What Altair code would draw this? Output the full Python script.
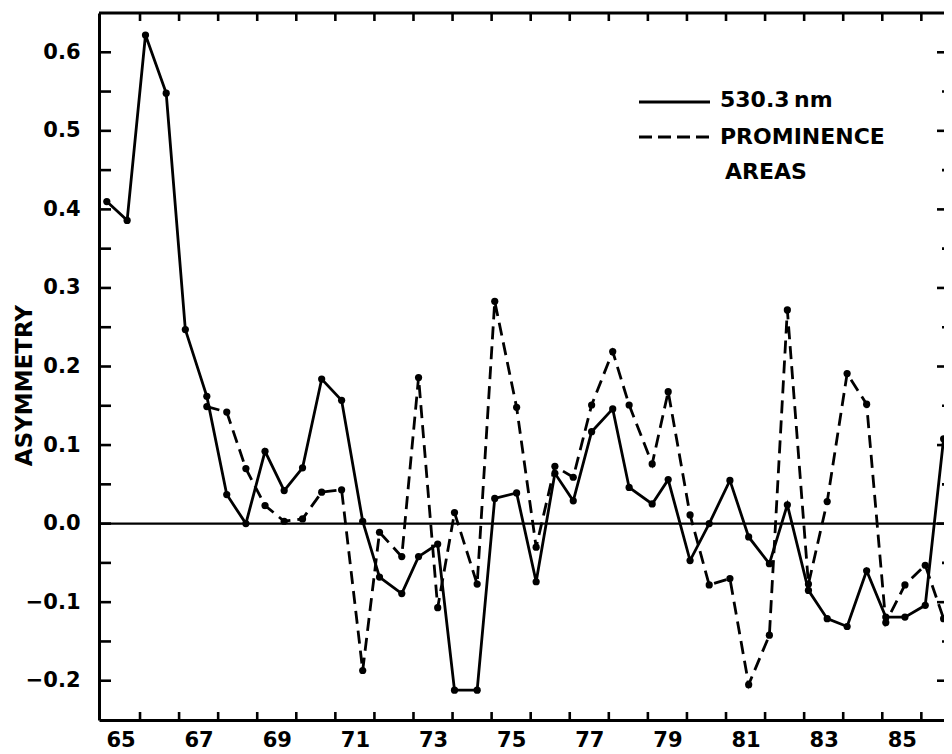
import altair as alt
import pandas as pd

# ---- data ----
years = [1965.15, 1965.67, 1966.14, 1966.67, 1967.16, 1967.71, 1968.22, 1968.71,
         1969.20, 1969.69, 1970.16, 1970.65, 1971.16, 1971.70, 1972.13, 1972.70,
         1973.13, 1973.62, 1974.05, 1974.63, 1975.08, 1975.64, 1976.14, 1976.62,
         1977.09, 1977.56, 1978.10, 1978.52, 1979.11, 1979.52, 1980.08, 1980.57,
         1981.10, 1981.58, 1982.11, 1982.57, 1983.11, 1983.59, 1984.10, 1984.60,
         1985.09, 1985.58, 1986.10, 1986.57]

corona_530 = [0.410, 0.386, 0.622, 0.548, 0.247, 0.162, 0.037, 0.000,
              0.092, 0.042, 0.071, 0.184, 0.157, 0.003, -0.068, -0.089,
              -0.042, -0.026, -0.212, -0.212, 0.032, 0.039, -0.074, 0.064,
              0.029, 0.117, 0.146, 0.046, 0.025, 0.056, -0.047, 0.000,
              0.055, -0.017, -0.051, 0.024, -0.085, -0.121, -0.131, -0.060,
              -0.119, -0.119, -0.104, 0.108]

prom_years = years[5:]
prominence = [0.149, 0.142, 0.070, 0.023, 0.003, 0.006, 0.040, 0.043,
              -0.187, -0.011, -0.042, 0.186, -0.107, 0.014, -0.077, 0.283,
              0.148, -0.030, 0.073, 0.059, 0.151, 0.219, 0.151, 0.076,
              0.168, 0.011, -0.078, -0.070, -0.205, -0.142, 0.272, -0.077,
              0.028, 0.191, 0.152, -0.126, -0.078, -0.053, -0.121]

year_ticks = list(range(1966, 1987))
year_label_pos = [1965.5 + 2 * k for k in range(11)]
y_label_values = [-0.2, -0.1, 0.0, 0.1, 0.2, 0.3, 0.4, 0.5, 0.6]
y_minor_ticks = [-0.2, -0.15, -0.1, -0.05, 0.0, 0.05, 0.1, 0.15, 0.2, 0.25,
                 0.3, 0.35, 0.4, 0.45, 0.5, 0.55, 0.6]
y_long_right = [-0.2, -0.1, 0.0, 0.1, 0.2, 0.3, 0.4, 0.5, 0.6]
y_short_right = [-0.15, -0.05, 0.05, 0.15, 0.25, 0.35, 0.45, 0.55]

W, H = 845, 707
FONT = "DejaVu Sans"
X_DOMAIN = [1964.95, 1986.58]
Y_DOMAIN = [-0.25, 0.65]

df_s = pd.DataFrame({"year": years, "asym": corona_530})
df_p = pd.DataFrame({"year": prom_years, "asym": prominence})

xs = alt.Scale(domain=X_DOMAIN, nice=False, zero=False)
ys = alt.Scale(domain=Y_DOMAIN, nice=False, zero=False)

x_enc = alt.X("year:Q", scale=xs, axis=alt.Axis(
    values=year_label_pos, labelExpr="format(floor(datum.value) % 100, 'd')",
    ticks=False, tickSize=0, grid=False, title=None, domainWidth=3,
    domainColor="black", labelPadding=9, labelFlush=False, labelOverlap=False,
    labelFont=FONT, labelFontSize=21, labelFontWeight="bold", labelColor="black"))
y_enc = alt.Y("asym:Q", scale=ys, axis=alt.Axis(
    values=y_label_values, format=".1f", ticks=False, tickSize=0, grid=False,
    title="ASYMMETRY", titleFontSize=23, titleFontWeight="bold", titleFont=FONT,
    titleColor="black",
    titleAngle=-90, titleX=-75, titleY=372, titleAlign="center",
    titleBaseline="middle", domainWidth=3, domainColor="black",
    labelPadding=19, labelOverlap=False,
    labelFont=FONT, labelFontSize=21, labelFontWeight="bold", labelColor="black"))

LW = 2.8
solid_line = alt.Chart(df_s).mark_line(color="black", strokeWidth=LW).encode(x=x_enc, y=y_enc)
solid_pts = alt.Chart(df_s).mark_circle(color="black", size=52, opacity=1).encode(x="year:Q", y="asym:Q")
dash_line = alt.Chart(df_p).mark_line(color="black", strokeWidth=LW, strokeDash=[13, 7]).encode(x="year:Q", y="asym:Q")
dash_pts = alt.Chart(df_p).mark_circle(color="black", size=52, opacity=1).encode(x="year:Q", y="asym:Q")

zero_df = pd.DataFrame({"asym": [0.0]})
zero_line = alt.Chart(zero_df).mark_rule(color="black", strokeWidth=2.4).encode(
    y="asym:Q", x=alt.value(0), x2=alt.value(W))

top_frame = alt.Chart(zero_df).mark_rule(color="black", strokeWidth=2.8).encode(
    y=alt.value(0), x=alt.value(0), x2=alt.value(W))

yt_df = pd.DataFrame({"year": year_ticks})
top_ticks = alt.Chart(yt_df).mark_rule(color="black", strokeWidth=2.6).encode(
    x="year:Q", y=alt.value(0), y2=alt.value(8))
bot_ticks = alt.Chart(yt_df).mark_rule(color="black", strokeWidth=2.6).encode(
    x="year:Q", y=alt.value(H), y2=alt.value(H - 8))

left_df = pd.DataFrame({"asym": y_minor_ticks})
left_ticks = alt.Chart(left_df).mark_rule(color="black", strokeWidth=2.6).encode(
    y="asym:Q", x=alt.value(0), x2=alt.value(12))
rl_df = pd.DataFrame({"asym": y_long_right})
right_long = alt.Chart(rl_df).mark_rule(color="black", strokeWidth=2.6).encode(
    y="asym:Q", x=alt.value(W - 7), x2=alt.value(W))
rs_df = pd.DataFrame({"asym": y_short_right})
right_short = alt.Chart(rs_df).mark_rule(color="black", strokeWidth=2.6).encode(
    y="asym:Q", x=alt.value(W - 2), x2=alt.value(W))

# legend
leg_solid = alt.Chart(zero_df).mark_rule(color="black", strokeWidth=LW).encode(
    x=alt.value(540), x2=alt.value(611), y=alt.value(89))
leg_dash = alt.Chart(zero_df).mark_rule(color="black", strokeWidth=LW, strokeDash=[13, 6]).encode(
    x=alt.value(540), x2=alt.value(611), y=alt.value(124))
leg_t1 = alt.Chart(zero_df).mark_text(text="530.3\u2009nm", font=FONT, fontSize=22, fontWeight="bold",
    align="left", baseline="middle", color="black").encode(x=alt.value(621), y=alt.value(87))
leg_t2 = alt.Chart(zero_df).mark_text(text="PROMINENCE", font=FONT, fontSize=22, fontWeight="bold",
    align="left", baseline="middle", color="black").encode(x=alt.value(621), y=alt.value(124))
leg_t3 = alt.Chart(zero_df).mark_text(text="AREAS", font=FONT, fontSize=22, fontWeight="bold",
    align="left", baseline="middle", color="black").encode(x=alt.value(626), y=alt.value(159))

chart = alt.layer(
    solid_line, dash_line, solid_pts, dash_pts, zero_line, top_frame,
    top_ticks, bot_ticks, left_ticks, right_long, right_short,
    leg_solid, leg_dash, leg_t1, leg_t2, leg_t3
).properties(
    width=W, height=H,
    background="white",
    autosize=alt.AutoSizeParams(type="none"),
    padding={"left": 91, "top": 5, "right": 0, "bottom": 30},
).configure_view(stroke=None)

chart.save("out.html", embed_options={"renderer": "svg", "actions": False})
